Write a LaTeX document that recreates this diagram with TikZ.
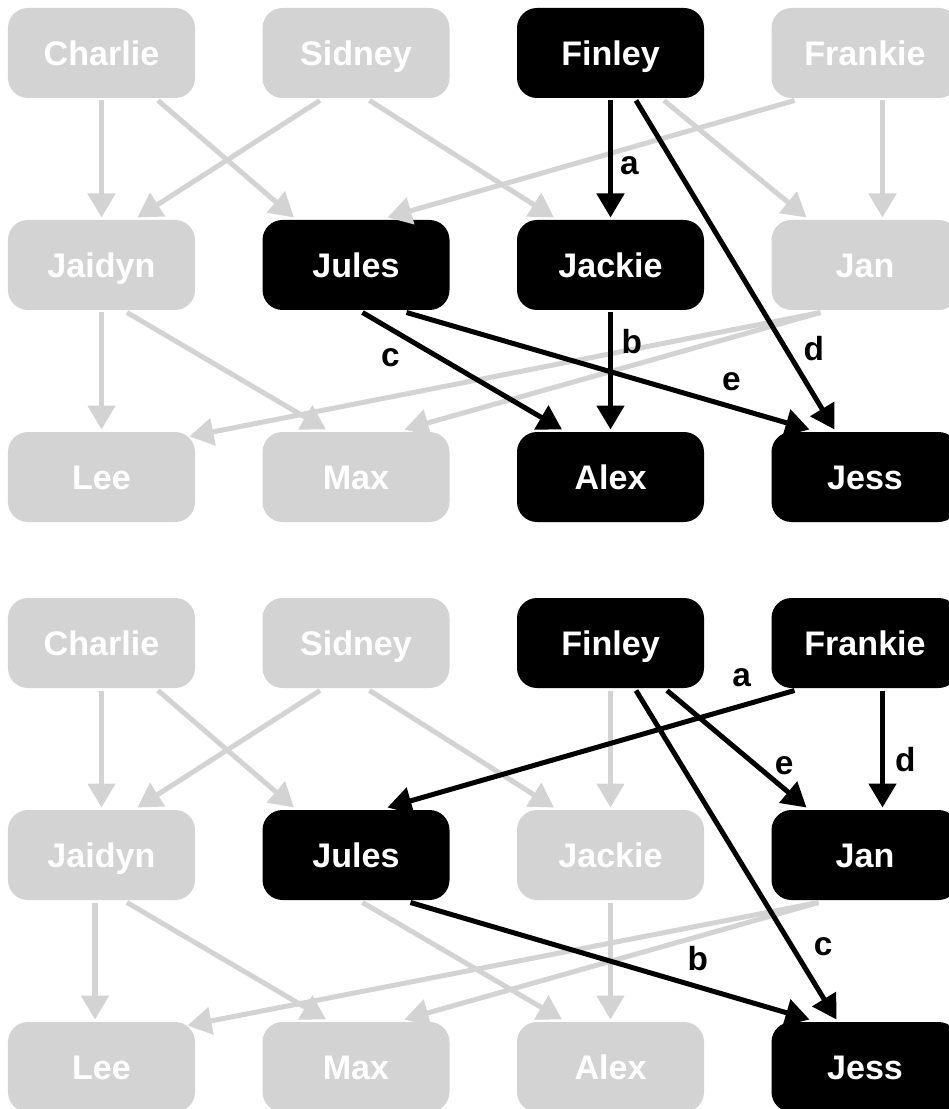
\documentclass[tikz,border=0pt]{standalone}
\usepackage{fontspec}
\setmainfont{Liberation Sans}
\usetikzlibrary{arrows.meta, positioning}
\definecolor{faded}{HTML}{D3D3D3}

\begin{document}
\begin{tikzpicture}[
		> = {Triangle[length=0.48cm, width=0.54cm]}, % arrow head style
		on grid, % distances from centre to centre
		node distance = 4.24cm and 5.09cm, % rows and columns
		line width = 0.1cm
		]
		
		\tikzstyle{person}=[
		rectangle,
		rounded corners = 0.4cm,
		minimum width = 3.74cm,
		minimum height = 1.8cm,
		inner sep = 0pt,
		text = white,
		font = \fontsize{19.4}{23}\selectfont\bfseries,
		text height = 0.49cm,
		text depth = 0cm
		]
		\tikzstyle{faded person}=[person, fill = faded]
		\tikzstyle{hit person}=[person, fill = black]
		\tikzstyle{faded edge}=[->, draw = faded]
		\tikzstyle{hit edge}=[->, draw = black]
		\tikzstyle{tag}=[inner sep = 0pt, text = black, font = \fontsize{19}{23}\selectfont\bfseries]
		
		\useasboundingbox (-2.03,1.06) rectangle (16.93,-21.12);
		
		% first panel
		\node[faded person] (charlie_1) at (0,0) {Charlie};
		\node[faded person] (sidney_1) [right=of charlie_1] {Sidney};
		\node[hit person] (finley_1) [right=of sidney_1] {Finley};
		\node[faded person] (frankie_1) [right=of finley_1] {Frankie};
		\node[faded person] (jaidyn_1) [below=of charlie_1] {Jaidyn};
		\node[hit person] (jules_1) [below=of sidney_1] {Jules};
		\node[hit person] (jackie_1) [below=of finley_1] {Jackie};
		\node[faded person] (jan_1) [below=of frankie_1] {Jan};
		\node[faded person] (lee_1) [below=of jaidyn_1] {Lee};
		\node[faded person] (max_1) [below=of jules_1] {Max};
		\node[hit person] (alex_1) [below=of jackie_1] {Alex};
		\node[hit person] (jess_1) [below=of jan_1] {Jess};
		
		\draw[faded edge] (charlie_1) -- (jaidyn_1);
		\draw[faded edge] ([xshift=1.13cm]charlie_1.south) -- ([xshift=-1.24cm]jules_1.north);
		\draw[faded edge] ([xshift=-0.72cm]sidney_1.south) -- ([xshift=0.72cm]jaidyn_1.north);
		\draw[faded edge] ([xshift=0.27cm]sidney_1.south) -- ([xshift=-1.13cm]jackie_1.north);
		\draw[faded edge] ([xshift=-1.41cm]frankie_1.south) -- ([xshift=0.63cm]jules_1.north);
		\draw[faded edge] ([xshift=1.07cm]finley_1.south) -- ([xshift=-1.17cm]jan_1.north);
		\draw[faded edge] ([xshift=0.35cm]frankie_1.south) -- ([xshift=0.35cm]jan_1.north);
		\draw[faded edge] (jaidyn_1) -- (lee_1);
		\draw[faded edge] ([xshift=0.51cm]jaidyn_1.south) -- ([xshift=-0.6cm]max_1.north);
		\draw[faded edge] ([xshift=-0.89cm]jan_1.south) -- ([xshift=-0.16cm,yshift=-0.14cm]lee_1.north east);
		\draw[faded edge] ([xshift=-0.89cm]jan_1.south) -- ([xshift=0.97cm]max_1.north);
		
		\draw[hit edge] (finley_1) -- (jackie_1) node[tag, pos=0.56, right=0.14cm] {a};
		\draw[hit edge] (jackie_1) -- (alex_1) node[tag, pos=0.25, right=0.17cm] {b};
		\draw[hit edge] ([xshift=0.13cm]jules_1.south) -- ([xshift=-0.97cm]alex_1.north) node[tag, pos=0.385, left=0.74cm] {c};
		\draw[hit edge] ([xshift=0.51cm]finley_1.south) -- ([xshift=-0.61cm]jess_1.north) node[tag, pos=0.754, right=0.31cm] {d};
		\draw[hit edge] ([xshift=1.01cm]jules_1.south) -- ([xshift=-1.11cm]jess_1.north) node[tag, pos=0.806, above=0.27cm] {e};
		
		% second panel
		\node[faded person] (charlie_2) [below=11.8cm of charlie_1] {Charlie};
		\node[faded person] (sidney_2) [right=of charlie_2] {Sidney};
		\node[hit person] (finley_2) [right=of sidney_2] {Finley};
		\node[hit person] (frankie_2) [right=of finley_2] {Frankie};
		\node[faded person] (jaidyn_2) [below=of charlie_2] {Jaidyn};
		\node[hit person] (jules_2) [below=of sidney_2] {Jules};
		\node[faded person] (jackie_2) [below=of finley_2] {Jackie};
		\node[hit person] (jan_2) [below=of frankie_2] {Jan};
		\node[faded person] (lee_2) [below=of jaidyn_2] {Lee};
		\node[faded person] (max_2) [below=of jules_2] {Max};
		\node[faded person] (alex_2) [below=of jackie_2] {Alex};
		\node[hit person] (jess_2) [below=of jan_2] {Jess};
		
		\draw[faded edge] (charlie_2) -- (jaidyn_2);
		\draw[faded edge] ([xshift=1.13cm]charlie_2.south) -- ([xshift=-1.24cm]jules_2.north);
		\draw[faded edge] ([xshift=-0.72cm]sidney_2.south) -- ([xshift=0.72cm]jaidyn_2.north);
		\draw[faded edge] ([xshift=0.27cm]sidney_2.south) -- ([xshift=-1.13cm]jackie_2.north);
		\draw[faded edge] (finley_2) -- (jackie_2);
		\draw[faded edge] ([xshift=-0.13cm]jaidyn_2.south) -- ([xshift=-0.13cm]lee_2.north);
		\draw[faded edge] ([xshift=0.51cm]jaidyn_2.south) -- ([xshift=-0.6cm]max_2.north);
		\draw[faded edge] ([xshift=0.13cm]jules_2.south) -- ([xshift=-0.97cm]alex_2.north);
		\draw[faded edge] (jackie_2) -- (alex_2);
		\draw[faded edge] ([xshift=-0.93cm]jan_2.south) -- ([xshift=-0.2cm,yshift=-0.12cm]lee_2.north east);
		\draw[faded edge] ([xshift=-0.93cm]jan_2.south) -- ([xshift=0.97cm]max_2.north);
		
		\draw[hit edge] ([xshift=-1.41cm]frankie_2.south) -- ([xshift=0.63cm]jules_2.north) node[tag, pos=0.13, above=0.32cm] {a};
		\draw[hit edge] ([xshift=1.09cm]jules_2.south) -- ([xshift=-1.11cm]jess_2.north) node[tag, pos=0.72, above=0.26cm] {b};
		\draw[hit edge] ([xshift=0.51cm]finley_2.south) -- ([xshift=-0.57cm]jess_2.north) node[tag, pos=0.78, right=0.38cm] {c};
		\draw[hit edge] ([xshift=0.35cm]frankie_2.south) -- ([xshift=0.35cm]jan_2.north) node[tag, pos=0.59, right=0.2cm] {d};
		\draw[hit edge] ([xshift=1.13cm]finley_2.south) -- ([xshift=-1.17cm]jan_2.north) node[tag, pos=0.64, right=0.32cm] {e};
		\end{tikzpicture}
\end{document}
